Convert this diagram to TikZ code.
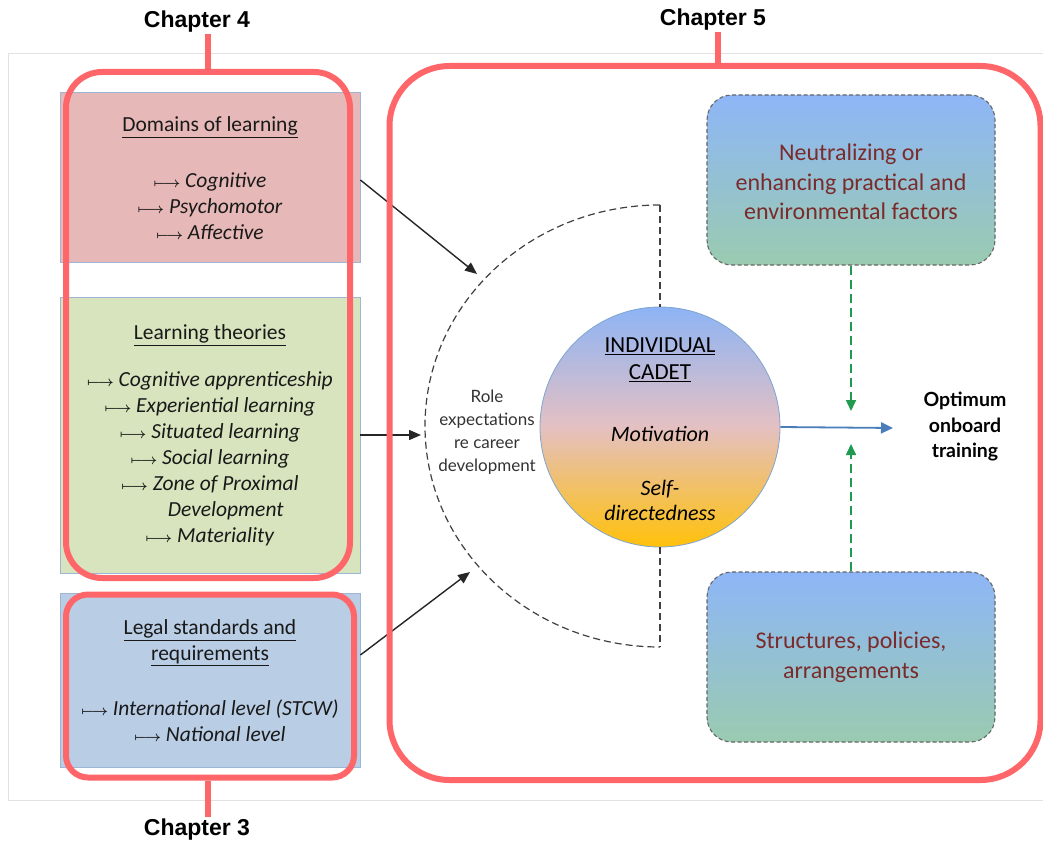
\documentclass[tikz,border=0pt]{standalone}
\usepackage{fontspec}
\setmainfont{Carlito}
\newfontfamily\latofont{Lato}
\newfontfamily\chapfont{Liberation Sans}
\usetikzlibrary{arrows.meta,calc}

\definecolor{chapred}{HTML}{FF6669}
\definecolor{pinkbox}{HTML}{E6B9B8}
\definecolor{greenbox}{HTML}{D7E4BD}
\definecolor{bluebox}{HTML}{B9CDE5}
\definecolor{boxedge}{HTML}{9DB6D6}
\definecolor{darkred}{HTML}{7A2B2B}
\definecolor{gradblue}{HTML}{8EB6F7}
\definecolor{gradgreen}{HTML}{9ACBB0}
\definecolor{arrowblue}{HTML}{4A7EBB}
\definecolor{dashgreen}{HTML}{1F9A4F}
\definecolor{circtop}{HTML}{8DB4F5}
\definecolor{circmid}{HTML}{E4C0C2}
\definecolor{circbot}{HTML}{FFC10A}
\definecolor{frameline}{HTML}{E2E2E2}

\newcommand{\itemarrow}{{\fontsize{15.5}{15.5}\selectfont\boldmath$\longmapsto$}\ }

\tikzset{
  leftbox/.style={draw=boxedge, line width=0.8pt, inner sep=0pt,
    minimum width=300pt},
  boxtext/.style={align=center, inner sep=0pt, text=black!90,
    font=\fontsize{21.5}{26}\selectfont},
  rightbox/.style={draw=black!60, dashed, line width=1.1pt,
    dash pattern=on 4pt off 2.5pt, rounded corners=25pt,
    top color=gradblue, bottom color=gradgreen,
    minimum width=288pt, minimum height=170pt, inner sep=0pt},
  righttext/.style={align=center, inner sep=0pt, text=darkred,
    font=\fontsize{24}{29.5}\selectfont},
  chapframe/.style={draw=chapred, line width=6pt, inner sep=0pt},
  chaplabel/.style={font=\chapfont\bfseries\fontsize{23}{23}\selectfont,
    inner sep=0pt},
  blkarrow/.style={draw=black!85, line width=1.4pt,
    -{Triangle[length=12pt,width=10pt]}},
  greenarrow/.style={draw=dashgreen, line width=1.6pt,
    dash pattern=on 9pt off 5pt,
    -{Triangle[length=11pt,width=10pt]}},
  arcline/.style={draw=black!75, line width=1.2pt, dash pattern=on 7pt off 4pt},
}

\begin{document}
\begin{tikzpicture}[x=1pt,y=-1pt]
\useasboundingbox (0,0) rectangle (1043,845);
\fill[white] (0,0) rectangle (1043,845);
\draw[frameline, line width=0.8pt] (8,53) -- (1043,53) (8,53) -- (8,800) -- (1043,800);

% ---- left column: three source boxes ----
\node[leftbox, fill=pinkbox, minimum height=170pt] (dom) at (210,177) {};
\node[leftbox, fill=greenbox, minimum height=276pt] (theo) at (210,435) {};
\node[leftbox, fill=bluebox, minimum height=174pt] (legal) at (210,680) {};

\node[boxtext] (domhead) at (210,127) {\underline{Domains of learning}};
\node[boxtext] (domlist) at (210,206) {\itemarrow\textit{Cognitive}\\
  \itemarrow\textit{Psychomotor}\\ \itemarrow\textit{Affective}};

\node[boxtext] (theohead) at (210,335) {\underline{Learning theories}};
\node[boxtext] (theolist) at (210,459) {\itemarrow\textit{Cognitive apprenticeship}\\
  \itemarrow\textit{Experiential learning}\\
  \itemarrow\textit{Situated learning}\\
  \itemarrow\textit{Social learning}\\
  \itemarrow\textit{Zone of Proximal}\\
  \phantom{\itemarrow}\textit{Development}\\
  \itemarrow\textit{Materiality}};

\node[boxtext] (leghead) at (210,643) {\underline{Legal standards and}\\ \underline{requirements}};
\node[boxtext] (leglist) at (210,721) {\itemarrow\textit{International level (STCW)}\\
  \itemarrow\textit{National level}};

% ---- centre: role expectations half-ring and the cadet ----
\node[circle, draw=arrowblue!70, line width=0.8pt, minimum size=240pt, inner sep=0pt,
  top color=circtop, bottom color=circbot, middle color=circmid] (cadet) at (660,427) {};
\node[align=center, inner sep=0pt, font=\fontsize{23}{27}\selectfont] (cadethead) at (660,360)
  {\underline{INDIVIDUAL}\\ \underline{CADET}};
\node[inner sep=0pt, font=\fontsize{22}{26}\selectfont\itshape] (motiv) at (660,434) {Motivation};
\node[align=center, inner sep=0pt, font=\fontsize{22}{25}\selectfont\itshape] (selfdir) at (660,500)
  {Self-\\directedness};

\draw[arcline] (660,205) arc[start angle=-90, end angle=-270, x radius=235, y radius=221];
\coordinate (arctop) at (660,205);
\coordinate (arcbot) at (660,647);
\draw[arcline] (arctop) -- (cadet.north);
\draw[arcline] (cadet.south) -- (arcbot);

\node[align=center, inner sep=0pt, text=black!80,
  font=\latofont\fontsize{17}{23}\selectfont] (role) at (487,432)
  {Role\\expectations\\re career\\development};

\coordinate (in1) at (477,274);
\coordinate (in2) at (421,435);
\coordinate (in3) at (470,572);
\draw[blkarrow] ($(dom.east)+(0,3)$) -- (in1);
\draw[blkarrow] (theo.east) -- (in2);
\draw[blkarrow] ($(legal.east)+(0,-25)$) -- (in3);

% ---- right column: conditions and outcome ----
\node[rightbox] (neut) at (851,180) {};
\node[righttext] (neuttext) at (851,182) {Neutralizing or\\ enhancing practical and\\ environmental factors};
\node[rightbox] (struct) at (851,657) {};
\node[righttext] (structtext) at (851,657) {Structures, policies,\\ arrangements};

\node[align=center, inner sep=0pt, font=\latofont\bfseries\fontsize{19.5}{25.5}\selectfont]
  (optimum) at (965,427) {Optimum\\onboard\\training};

\coordinate (outtip) at (893,428);
\draw[draw=arrowblue, line width=1.8pt, -{Triangle[length=12pt,width=11pt]}]
  (cadet.east) -- (outtip);

\coordinate (g1) at (851,411);
\coordinate (g2) at (851,444);
\draw[greenarrow] (neut.south) -- (g1);
\draw[greenarrow] (struct.north) -- (g2);

% ---- chapter brackets ----
\node[chapframe, rounded corners=36pt, minimum width=284pt, minimum height=506pt] (ch4box) at (208,325) {};
\node[chapframe, rounded corners=22pt, minimum width=288pt, minimum height=183pt] (ch3box) at (210,686) {};
\node[chapframe, rounded corners=60pt, minimum width=651pt, minimum height=714pt] (ch5box) at (715,423) {};

\node[chaplabel] (ch4) at (197,22) {Chapter 4};
\node[chaplabel] (ch5) at (713,20) {Chapter 5};
\node[chaplabel] (ch3) at (197,830) {Chapter 3};

\draw[chapred, line width=6pt] (ch4box.north -| 208,0) -- (208,34);
\draw[chapred, line width=6pt] (ch3box.south -| 208,0) -- (208,817);
\draw[chapred, line width=6pt] (ch5box.north -| 718,0) -- (718,32);
\end{tikzpicture}
\end{document}
